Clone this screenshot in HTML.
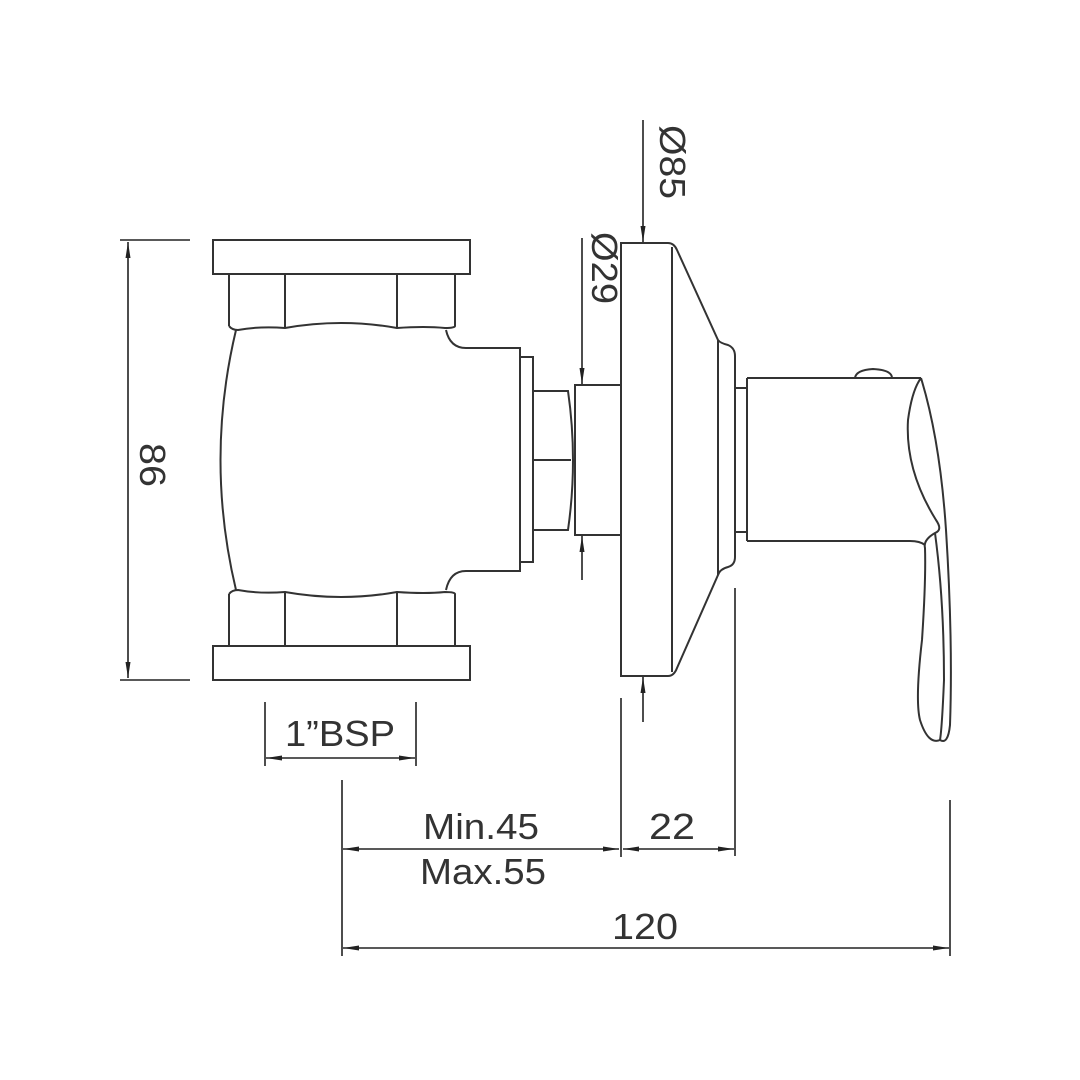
<!DOCTYPE html>
<html><head><meta charset="utf-8"><style>html,body{margin:0;padding:0;background:#fff}svg{display:block}</style></head>
<body>
<svg width="1080" height="1080" viewBox="0 0 1080 1080" xmlns="http://www.w3.org/2000/svg">
<defs>
<marker id="a" viewBox="0 0 16 5" refX="16" refY="2.5" markerWidth="16" markerHeight="5" markerUnits="userSpaceOnUse" orient="auto-start-reverse"><path d="M0,0 L16,2.5 L0,5 Z" fill="#222"/></marker>
</defs>
<g fill="none" stroke="#333" stroke-width="2">
<rect x="213" y="240" width="257" height="34"/>
<path d="M229,274 V326 M455,274 V326 M285,274 V328 M397,274 V328"/>
<path d="M229,326 Q232,330 238,330 Q260,326 285,328 Q341,318 397,328 Q425,326 445,328 Q455,328 455,326"/>
<path d="M236,330 Q205,460 236,590"/>
<path d="M446,330 Q450,348 466,348 H520 V571 H466 Q450,571 446,590"/>
<rect x="213" y="646" width="257" height="34"/>
<path d="M229,646 V594 M455,646 V594 M285,646 V592 M397,646 V592"/>
<path d="M229,594 Q232,590 238,590 Q260,594 285,592 Q341,602 397,592 Q425,594 445,592 Q455,592 455,594"/>
<rect x="520" y="357" width="13" height="205"/>
<path d="M533,391 H568 Q578,460 568,530 H533 M533,460 H571"/>
<rect x="575" y="385" width="46" height="150"/>
<path d="M621,243 H668 Q674,243 677,250 L718,340 Q720,343 728,345 Q735,348 735,356 V557 Q735,565 728,567 Q720,569 718,575 L677,668 Q674,676 668,676 H621 Z"/>
<path d="M672,247 V672 M718,340 V575"/>
<rect x="735" y="388" width="12" height="144"/>
<path d="M747,378 H921 M747,541 H910 Q920,541 925,545"/>
<path d="M747,378 V541"/>
<path d="M855,378 Q856,370 873,369 Q892,370 892,378"/>
<path d="M921,378 Q940,440 946,530 Q953,640 950,725 Q948,745 940,740 Q928,745 920,720 Q915,700 922,640 Q926,580 925,548 Q923,540 935,533 Q943,530 936,520 Q905,470 908,420 Q912,390 921,378"/>
<path d="M935,533 Q944,600 944,680 Q942,728 940,740"/>
</g>
<g stroke="#222" stroke-width="1.6" fill="none">
<path d="M120,240 H190 M120,680 H190"/>
<line x1="128" y1="242" x2="128" y2="678" marker-start="url(#a)" marker-end="url(#a)"/>
<line x1="643" y1="120" x2="643" y2="242" marker-end="url(#a)"/>
<line x1="643" y1="722" x2="643" y2="677" marker-end="url(#a)"/>
<line x1="582" y1="238" x2="582" y2="384" marker-end="url(#a)"/>
<line x1="582" y1="580" x2="582" y2="536" marker-end="url(#a)"/>
<path d="M265,702 V766 M416,702 V766"/>
<line x1="266" y1="758" x2="415" y2="758" marker-start="url(#a)" marker-end="url(#a)"/>
<path d="M342,780 V956 M621,698 V857 M735,588 V856 M950,800 V956"/>
<line x1="343" y1="849" x2="619" y2="849" marker-start="url(#a)" marker-end="url(#a)"/>
<line x1="623" y1="849" x2="734" y2="849" marker-start="url(#a)" marker-end="url(#a)"/>
<line x1="343" y1="948" x2="949" y2="948" marker-start="url(#a)" marker-end="url(#a)"/>
</g>
<g font-family="Liberation Sans, sans-serif" font-size="36" fill="#333">
<text x="481" y="839" text-anchor="middle" textLength="116" lengthAdjust="spacingAndGlyphs">Min.45</text>
<text x="483" y="884" text-anchor="middle" textLength="126" lengthAdjust="spacingAndGlyphs">Max.55</text>
<text x="672" y="839" text-anchor="middle" textLength="46" lengthAdjust="spacingAndGlyphs">22</text>
<text x="645" y="939" text-anchor="middle" textLength="66" lengthAdjust="spacingAndGlyphs">120</text>
<text x="340" y="746" text-anchor="middle" textLength="110" lengthAdjust="spacingAndGlyphs">1”BSP</text>
<text transform="translate(140,465) rotate(90)" text-anchor="middle" textLength="44" lengthAdjust="spacingAndGlyphs">86</text>
<text transform="translate(660,162) rotate(90)" text-anchor="middle" textLength="74" lengthAdjust="spacingAndGlyphs">Ø85</text>
<text transform="translate(592,268) rotate(90)" text-anchor="middle" textLength="72" lengthAdjust="spacingAndGlyphs">Ø29</text>
</g>
</svg>
</body></html>
